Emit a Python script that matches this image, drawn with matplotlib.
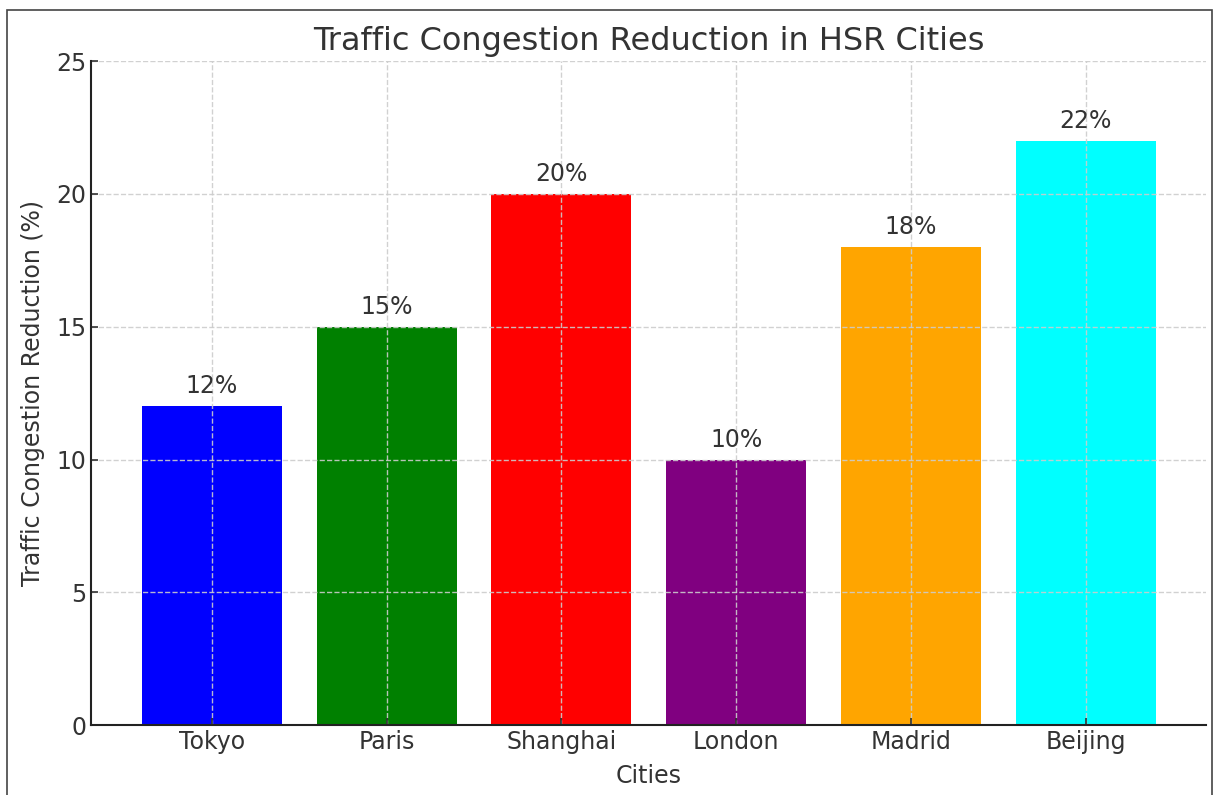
import numpy as np
import matplotlib
matplotlib.use("Agg")
from matplotlib import pyplot as plt
from matplotlib.patches import Rectangle

cities    = ["Tokyo", "Paris", "Shanghai", "London", "Madrid", "Beijing"]
reduction = [12, 15, 20, 10, 18, 22]
colors    = ["blue", "green", "red", "purple", "orange", "cyan"]

txt = "#333333"
plt.rcParams['text.color'] = txt
plt.rcParams['axes.labelcolor'] = txt
plt.rcParams['xtick.color'] = txt
plt.rcParams['ytick.color'] = txt

fig = plt.figure(figsize=(12.15, 7.95), dpi=100)
ax = fig.add_axes([0.075, 0.088, 0.918, 0.835])

x = np.arange(len(cities))
bars = ax.bar(x, reduction, color=colors, width=0.8)

# étiquettes au-dessus des barres
for b, v in zip(bars, reduction):
    ax.text(b.get_x() + b.get_width()/2, v + 0.3, f"{v}%",
            ha='center', va='bottom', fontsize=17, color=txt)

ax.set_xticks(x)
ax.set_xticklabels(cities)
ax.set_ylim(0, 25)
ax.set_yticks([0, 5, 10, 15, 20, 25])
ax.tick_params(axis='both', labelsize=17, direction='in', length=5, width=1.2)

ax.set_title("Traffic Congestion Reduction in HSR Cities", fontsize=23, color=txt, pad=8)
ax.set_xlabel("Cities", fontsize=17, labelpad=7)
ax.set_ylabel("Traffic Congestion Reduction (%)", fontsize=17, labelpad=8)

ax.grid(True, linestyle='--', color='#cccccc', linewidth=1, alpha=0.9)

ax.spines['top'].set_visible(False)
ax.spines['right'].set_visible(False)
ax.spines['left'].set_linewidth(1.5)
ax.spines['bottom'].set_linewidth(1.5)
ax.spines['left'].set_color('#222222')
ax.spines['bottom'].set_color('#222222')

# cadre autour de la figure
fig.patches.append(Rectangle((7/1215, -0.05), 1205/1215, 1.05 - 10/795,
                             transform=fig.transFigure, fill=False,
                             edgecolor='#444444', linewidth=1.2))

fig.savefig("out.png", dpi=100)
